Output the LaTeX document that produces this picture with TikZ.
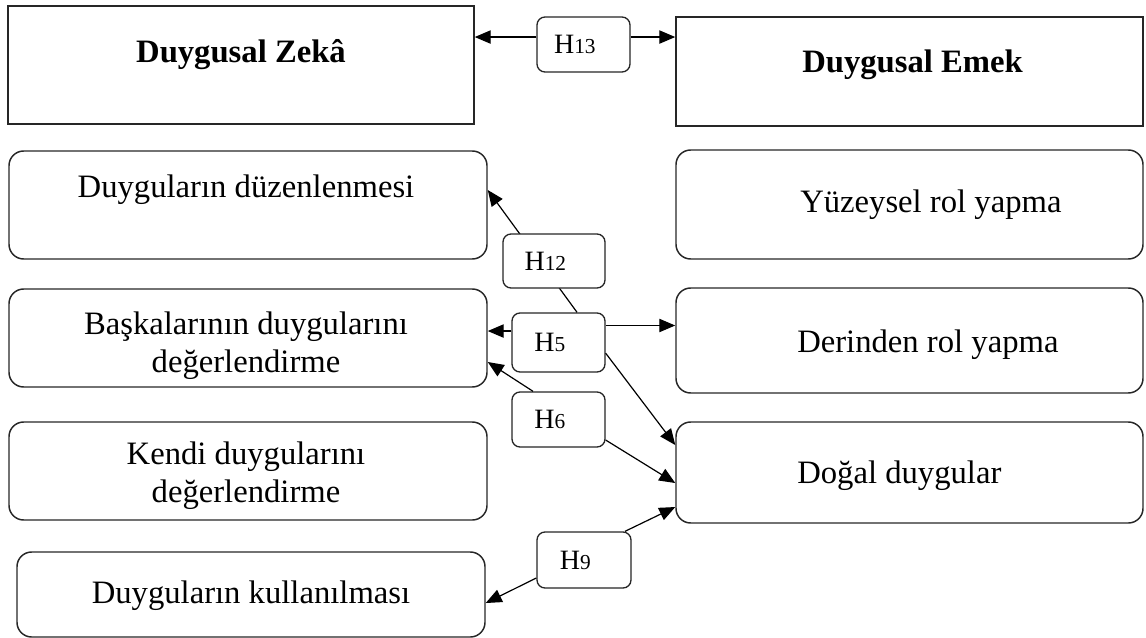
\documentclass[tikz,border=0pt]{standalone}
\usepackage{fontspec}
\setmainfont{Liberation Serif}
\usetikzlibrary{arrows.meta,positioning}

\newcommand{\hnum}[1]{H{\fontsize{16}{18}\selectfont #1}\hspace*{13pt}}

\begin{document}
\begin{tikzpicture}[
  x=0.75pt, y=-0.75pt,
  sqbox/.style={draw=black!85, line width=1.1pt, inner sep=0pt},
  rbox/.style={draw=black!85, line width=1.1pt, rounded corners=11pt, inner sep=0pt},
  hbox/.style={draw=black!85, line width=1pt, rounded corners=6pt, fill=white, inner sep=0pt, font=\fontsize{21}{24}\selectfont},
  txt/.style={inner sep=0pt, align=center, font=\fontsize{24.5}{28}\selectfont},
  arr/.style={-{Triangle[length=12pt, width=10pt]}, line width=0.9pt}
]
\useasboundingbox (0,0) rectangle (1146,638);

\node[sqbox, minimum width=349.5pt, minimum height=88.5pt] (zeka) at (241,65) {};
\node[sqbox, minimum width=350.25pt, minimum height=81.75pt] (emek) at (909.5,71.5) {};
\node[rbox, minimum width=358.5pt, minimum height=81pt] (duzen) at (248,205) {};
\node[rbox, minimum width=358.5pt, minimum height=73.5pt] (bask) at (248,338) {};
\node[rbox, minimum width=358.5pt, minimum height=73.5pt] (kendi) at (248,471) {};
\node[rbox, minimum width=351pt, minimum height=63.75pt] (kull) at (251,594.5) {};
\node[rbox, minimum width=350.25pt, minimum height=81.75pt] (yuzey) at (909.5,204.5) {};
\node[rbox, minimum width=350.25pt, minimum height=78.75pt] (derin) at (909.5,340.5) {};
\node[rbox, minimum width=350.25pt, minimum height=75.75pt] (dogal) at (909.5,472.5) {};

\node[txt, anchor=base] (zeka-t) at (241,63) {\textbf{Duygusal Zekâ}};
\node[txt, anchor=base west] (emek-t) at (802,73) {\textbf{Duygusal Emek}};
\node[txt, anchor=base] (duzen-t) at (246,198) {Duyguların düzenlenmesi};
\node[txt, anchor=base] (bask-t) at (246,372) {Başkalarının duygularını\\değerlendirme};
\node[txt, anchor=base] (kendi-t) at (246,502) {Kendi duygularını\\değerlendirme};
\node[txt, anchor=base] (kull-t) at (251,603) {Duyguların kullanılması};
\node[txt, anchor=base west] (yuzey-t) at (800,213) {Yüzeysel rol yapma};
\node[txt, anchor=base west] (derin-t) at (797,352) {Derinden rol yapma};
\node[txt, anchor=base west] (dogal-t) at (797,483) {Doğal duygular};

\node[hbox, minimum width=69.75pt, minimum height=41.25pt] (h13) at (583.5,44.5) {\hnum{13}};
\node[hbox, minimum width=69.75pt, minimum height=44.25pt] (h5) at (558.5,342.5) {\hnum{5}};
\node[hbox, minimum width=69.75pt, minimum height=41.25pt] (h6) at (558.5,419.5) {\hnum{6}};
\node[hbox, minimum width=70.5pt, minimum height=42pt] (h9) at (584,560) {\hnum{9}};

\coordinate (h13l) at ([yshift=5.6pt]h13.west);
\coordinate (h13r) at ([yshift=5.6pt]h13.east);
\coordinate (h5l) at ([yshift=8.6pt]h5.west);
\coordinate (h5r) at ([yshift=12.75pt]h5.east);

\draw[arr] (h13l) -- (h13l -| zeka.east);
\draw[arr] (h13r) -- (h13r -| emek.west);
\draw[arr] ([xshift=13.9pt]h5.north) -- ([yshift=11.25pt]duzen.east);
\draw[arr] (h5l) -- (h5l -| bask.east);
\draw[arr] (h5r) -- (h5r -| derin.west);
\draw[arr] ([yshift=-8pt]h5.east) -- ([yshift=20.6pt]dogal.west);
\draw[arr] ([xshift=-19.1pt]h6.north) -- ([yshift=-18pt]bask.east);
\draw[arr] ([yshift=-15.4pt]h6.east) -- ([yshift=-7.9pt]dogal.west);
\draw[arr] ([xshift=30.75pt]h9.north) -- ([yshift=-25.9pt]dogal.west);
\draw[arr] ([yshift=-13.5pt]h9.west) -- ([yshift=-6.4pt]kull.east);

\node[hbox, minimum width=76.5pt, minimum height=40.5pt] (h12) at (554,261) {\hnum{12}};
\end{tikzpicture}
\end{document}
